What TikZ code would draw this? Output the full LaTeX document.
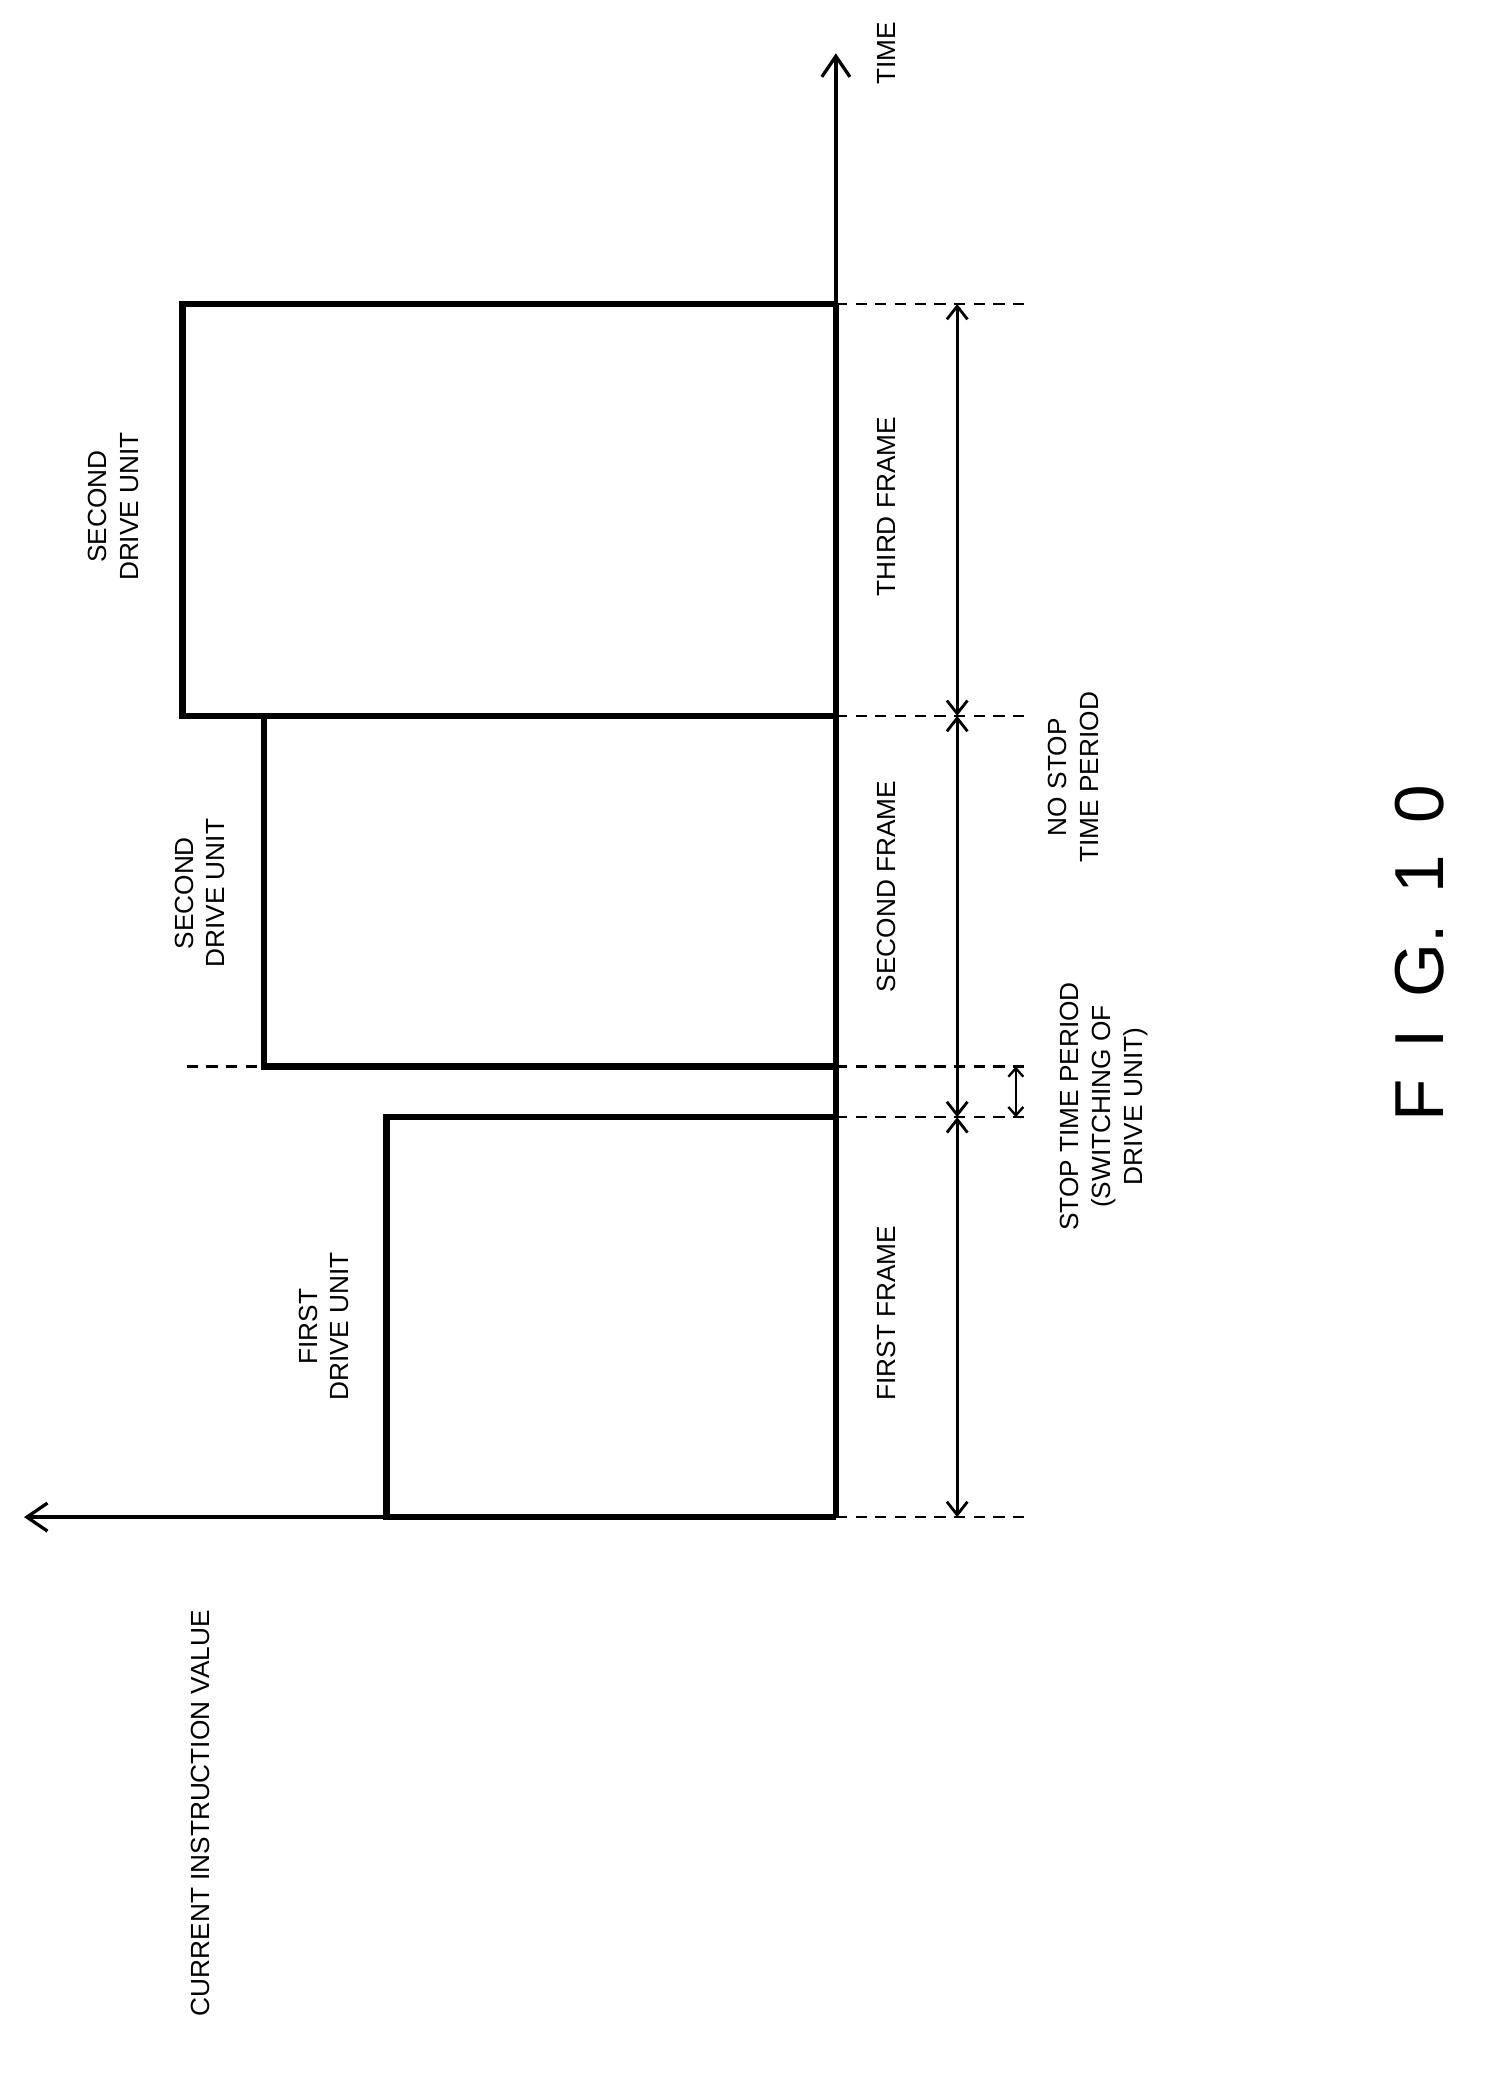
\documentclass[tikz,border=0pt]{standalone}
\usepackage{fontspec}
\setmainfont{Liberation Sans}
\usetikzlibrary{arrows.meta}
\begin{document}
\begin{tikzpicture}[x=0.05cm,y=-0.05cm,
  thickl/.style={line width=7pt},
  thinl/.style={line width=3.5pt},
  dashl/.style={line width=2.5pt,dash pattern=on 12pt off 9pt},
  dim/.style={line width=3pt,{Straight Barb[length=14pt,width=22pt]}-{Straight Barb[length=14pt,width=22pt]}},
  lbl/.style={rotate=90,font=\fontsize{28}{34}\selectfont,align=center,inner sep=0pt}]
\useasboundingbox (0,0) rectangle (1115,1561);
\coordinate (o) at (627,1138);
\coordinate (tt) at (627,40);
\coordinate (ct) at (18,1138);
\draw[thinl,-{Straight Barb[length=22pt,width=30pt]}] (o) -- (tt);
\draw[thinl,-{Straight Barb[length=22pt,width=30pt]}] (o) -- (ct);
\draw[thickl] (627,1138) -- (290,1138) -- (290,838) -- (627,838);
\draw[thickl] (627,800) -- (198,800) -- (198,537) -- (627,537);
\draw[thickl] (627,537) -- (137,537) -- (137,228) -- (627,228);
\draw[thickl] (627,1138) -- (627,228);
\draw[dashl] (627,228) -- (772,228);
\draw[dashl] (627,537) -- (772,537);
\draw[dashl] (627,800) -- (772,800);
\draw[dashl] (140,800) -- (195,800);
\draw[dashl] (627,838) -- (772,838);
\draw[dashl] (627,1138) -- (768,1138);
\coordinate (a1) at (718,1138); \coordinate (a2) at (718,838);
\coordinate (a3) at (718,537); \coordinate (a4) at (718,228);
\draw[dim] (a1) -- (a2);
\draw[dim] (a2) -- (a3);
\draw[dim] (a3) -- (a4);
\coordinate (s1) at (762,800); \coordinate (s2) at (762,838);
\draw[line width=2.5pt,{Straight Barb[length=9pt,width=16pt]}-{Straight Barb[length=9pt,width=16pt]}] (s1) -- (s2);
\node[lbl] (time) at (665,40) {TIME};
\node[lbl] (f3) at (665,380) {THIRD FRAME};
\node[lbl] (f2) at (665,665) {SECOND FRAME};
\node[lbl] (f1) at (665,985) {FIRST FRAME};
\node[lbl] (ns) at (805,583) {NO STOP\\TIME PERIOD};
\node[lbl] (st) at (828,830) {STOP TIME PERIOD\\(SWITCHING OF\\DRIVE UNIT)};
\node[lbl] (d3) at (85,380) {SECOND\\DRIVE UNIT};
\node[lbl] (d2) at (150,670) {SECOND\\DRIVE UNIT};
\node[lbl] (d1) at (243,995) {FIRST\\DRIVE UNIT};
\node[lbl] (cv) at (150,1360) {CURRENT INSTRUCTION VALUE};
\node[lbl,font=\fontsize{74}{80}\selectfont] (fig) at (1065,715) {F\hspace{0.45em}I\hspace{0.45em}G.\hspace{0.45em}1\hspace{0.45em}0};
\end{tikzpicture}
\end{document}
